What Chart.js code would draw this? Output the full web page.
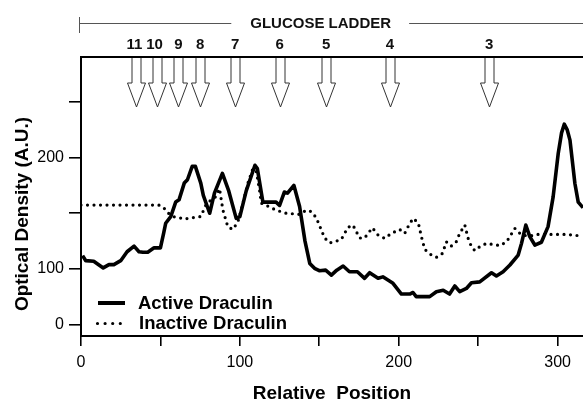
<!DOCTYPE html>
<html>
<head>
<meta charset="utf-8">
<script src="https://cdn.jsdelivr.net/npm/chart.js@4/dist/chart.umd.min.js"></script>
<style>
  body { margin: 0; background: #fff; }
  #wrap { width: 583px; height: 403px; }
</style>
</head>
<body>
<div id="wrap"><canvas id="myChart" width="583" height="403"></canvas></div>
<script>
// Active Draculin trace (relative position, optical density)
const activeX = [1, 3, 8, 14, 17.6, 20.7, 25, 29, 33.4, 36.5, 39, 42, 46, 50, 52, 53.3, 56.5, 59.6, 61.7, 65,
    67, 70, 72, 75.4, 77, 81, 84, 89, 93, 97.7, 100, 104, 109.5, 111, 114.5, 118, 122.8, 125, 128, 130,
    134, 137.6, 141, 144, 147, 150, 154, 157.6, 161, 165, 169, 174, 178.5, 181.7, 187, 190, 196.4, 201.7, 207, 209,
    211, 219.5, 223.7, 228, 232, 235.3, 238.4, 242.6, 245.8, 251, 258.4, 261.5, 265.7, 270, 275.2, 277.3, 280, 282.5, 285.7, 289.8,
    294, 297.2, 300.4, 302.5, 304.2, 306, 307.8, 310.9, 313, 316];
const activeY = [112, 107.5, 107, 101, 104, 104, 107.5, 115.5, 120.5, 115.5, 115, 115, 119, 119, 132, 141, 147, 160, 162, 177,
    180, 192, 192, 177, 166, 150, 168, 185.7, 170, 145.4, 147, 170, 193, 190, 160, 160, 160, 157, 169, 168,
    175, 156, 125, 105, 100.6, 98.5, 99, 94.6, 99, 102.7, 97.6, 97.6, 91.7, 96.7, 91.7, 93, 87.2, 77.6, 77.6, 79,
    75.3, 75.3, 79.7, 81, 77.6, 84.8, 79.7, 82.6, 87.7, 88.5, 96.7, 93.8, 97.6, 103.6, 112.5, 123, 139.4, 129, 121.5, 124,
    138, 164.7, 203.6, 222, 229.8, 225, 215.5, 176.7, 160, 155];

// Inactive Draculin trace
const inactiveX = [0, 10, 20, 30, 40, 49, 52, 55, 58.6, 62, 65, 70, 75.4, 78.8, 82, 85, 87.2, 89.3, 92.4, 95.5,
    98.7, 101.9, 105, 108.2, 110.3, 112.4, 113.5, 117.6, 122.9, 129.2, 137.6, 141.8, 145, 148.1, 151.3, 153.3, 156.5, 159.6, 163.9, 168,
    171.2, 175.4, 178.5, 183.4, 187, 191.2, 195.4, 200.6, 203.8, 205.9, 209, 212.3, 214.3, 216.4, 220.6, 223.7, 227.5, 230, 233, 236.2,
    238.4, 241.6, 243.7, 245.8, 247.9, 251, 255.3, 259.5, 263.7, 267.9, 273.1, 277.3, 282.5, 286.7, 293, 299.4, 305.7, 316];
const inactiveY = [157.3, 157.3, 157.3, 157.3, 157.3, 157.3, 155, 150, 146.8, 146, 144.8, 146, 147, 158, 162, 165, 172, 153, 138, 135.5,
    142, 158.8, 176.7, 190, 188, 170.7, 159, 156.4, 152.7, 150, 149, 152.8, 151.5, 146, 135, 128, 123.5, 124.5, 126.6, 137.3,
    139.4, 127.8, 127.8, 137, 130.5, 127.5, 132, 135.5, 132, 138, 145.4, 141.5, 129, 117.6, 112.5, 110.5, 114, 124.4, 120.5, 124.4,
    132, 139.4, 127.5, 120, 116.5, 120, 123, 122, 121, 124.4, 136.4, 130.5, 129.5, 131, 131, 131, 131, 129.5];

// glucose ladder markers
const ladderX = [34.9, 47.6, 61.3, 75, 97, 125, 154.4, 194.4, 256.9];
const ladderLabels = ['11', '10', '9', '8', '7', '6', '5', '4', '3'];

// ticks
const xTickValues = [0, 50, 100, 150, 200, 250, 300];
const xTickLabels = ['0', '', '100', '', '200', '', '300'];
const yTickValues = [50, 100, 150, 200, 250];
const yTickLabels = ['0', '100', '', '200', ''];

const FONT = '"Liberation Sans", Arial, Helvetica, sans-serif';

function toPoints(xs, ys) {
    return xs.map((x, i) => ({ x: x, y: ys[i] }));
}

const decorations = {
    id: 'decorations',
    afterDraw(chart) {
        const ctx = chart.ctx;
        const area = chart.chartArea;
        const xs = chart.scales.x;
        ctx.save();

        // top frame line
        ctx.strokeStyle = '#000';
        ctx.lineWidth = 2;
        ctx.beginPath();
        ctx.moveTo(area.left - 1, area.top);
        ctx.lineTo(chart.width, area.top);
        ctx.stroke();

        // glucose ladder bar
        ctx.font = 'bold 15px ' + FONT;
        ctx.fillStyle = '#111';
        ctx.textAlign = 'center';
        ctx.textBaseline = 'middle';
        const titleX = 320.7;
        const tw = ctx.measureText('GLUCOSE LADDER').width;
        ctx.fillText('GLUCOSE LADDER', titleX, 24);
        ctx.strokeStyle = '#555';
        ctx.lineWidth = 1;
        ctx.beginPath();
        ctx.moveTo(79.5, 17);
        ctx.lineTo(79.5, 33);
        ctx.moveTo(79.5, 23.5);
        ctx.lineTo(titleX - tw / 2 - 19, 23.5);
        ctx.moveTo(titleX + tw / 2 + 18, 23.5);
        ctx.lineTo(chart.width, 23.5);
        ctx.stroke();

        // arrows
        ctx.strokeStyle = '#333';
        ctx.fillStyle = '#fff';
        ladderX.forEach((v, i) => {
            const px = Math.round(xs.getPixelForValue(v)) + 0.5;
            ctx.beginPath();
            ctx.moveTo(px - 4.5, area.top + 1);
            ctx.lineTo(px - 4.5, 83);
            ctx.lineTo(px - 9, 83);
            ctx.lineTo(px, 107);
            ctx.lineTo(px + 9, 83);
            ctx.lineTo(px + 4.5, 83);
            ctx.lineTo(px + 4.5, area.top + 1);
            ctx.fill();
            ctx.stroke();
        });
        ctx.font = 'bold 15px ' + FONT;
        ctx.fillStyle = '#111';
        ladderX.forEach((v, i) => {
            let px = xs.getPixelForValue(v);
            if (i < 2) px -= 2;
            ctx.fillText(ladderLabels[i], px, 44.5);
        });

        // legend
        ctx.strokeStyle = '#000';
        ctx.lineWidth = 4;
        ctx.beginPath();
        ctx.moveTo(98, 303);
        ctx.lineTo(125, 303);
        ctx.stroke();
        ctx.lineWidth = 3.2;
        ctx.lineCap = 'round';
        ctx.setLineDash([0, 7.6]);
        ctx.beginPath();
        ctx.moveTo(97.5, 323.5);
        ctx.lineTo(121, 323.5);
        ctx.stroke();
        ctx.setLineDash([]);
        ctx.font = 'bold 18.5px ' + FONT;
        ctx.fillStyle = '#000';
        ctx.textAlign = 'left';
        ctx.fillText('Active Draculin', 138, 303.5);
        ctx.fillText('Inactive Draculin', 139, 324);

        // y axis title
        ctx.translate(23, 214);
        ctx.rotate(-Math.PI / 2);
        ctx.textAlign = 'center';
        ctx.font = 'bold 19px ' + FONT;
        ctx.fillText('Optical Density (A.U.)', 0, 0);
        ctx.restore();
    }
};

const ctx = document.getElementById('myChart').getContext('2d');
const chart = new Chart(ctx, {
    type: 'line',
    data: {
        datasets: [
            {
                label: 'Inactive Draculin',
                data: toPoints(inactiveX, inactiveY),
                borderColor: '#000',
                borderWidth: 3.2,
                borderDash: [0, 6.5],
                borderCapStyle: 'round',
                pointRadius: 0,
                tension: 0,
                fill: false
            },
            {
                label: 'Active Draculin',
                data: toPoints(activeX, activeY),
                borderColor: '#000',
                borderWidth: 3.6,
                borderJoinStyle: 'round',
                pointRadius: 0,
                tension: 0,
                fill: false
            }
        ]
    },
    options: {
        responsive: false,
        animation: false,
        devicePixelRatio: 1,
        layout: { padding: { top: 57, left: 0, right: 0, bottom: 0 } },
        plugins: {
            legend: { display: false },
            tooltip: { enabled: false }
        },
        scales: {
            x: {
                type: 'linear',
                min: 0,
                max: 316,
                afterBuildTicks: scale => { scale.ticks = xTickValues.map(v => ({ value: v })); },
                afterFit: scale => { scale.height = 67; },
                ticks: {
                    color: '#000',
                    padding: 7,
                    maxRotation: 0,
                    autoSkip: false,
                    font: { family: FONT, size: 16 },
                    callback: (value) => xTickLabels[xTickValues.indexOf(value)]
                },
                grid: {
                    drawOnChartArea: false,
                    drawTicks: true,
                    tickLength: 10,
                    color: '#000',
                    lineWidth: 1.6
                },
                border: { display: true, color: '#000', width: 2 },
                title: {
                    display: true,
                    text: 'Relative  Position',
                    color: '#000',
                    font: { family: FONT, size: 19, weight: 'bold', lineHeight: 1 },
                    padding: { top: 0, bottom: 0 }
                }
            },
            y: {
                type: 'linear',
                min: 40,
                max: 290,
                afterBuildTicks: scale => { scale.ticks = yTickValues.map(v => ({ value: v })); },
                afterFit: scale => { scale.width = 81; },
                ticks: {
                    color: '#000',
                    padding: 5,
                    autoSkip: false,
                    font: { family: FONT, size: 16 },
                    callback: (value) => yTickLabels[yTickValues.indexOf(value)]
                },
                grid: {
                    drawOnChartArea: false,
                    drawTicks: true,
                    tickLength: 12,
                    color: '#000',
                    lineWidth: 1.6
                },
                border: { display: true, color: '#000', width: 2 }
            }
        }
    },
    plugins: [decorations]
});
</script>
</body>
</html>
